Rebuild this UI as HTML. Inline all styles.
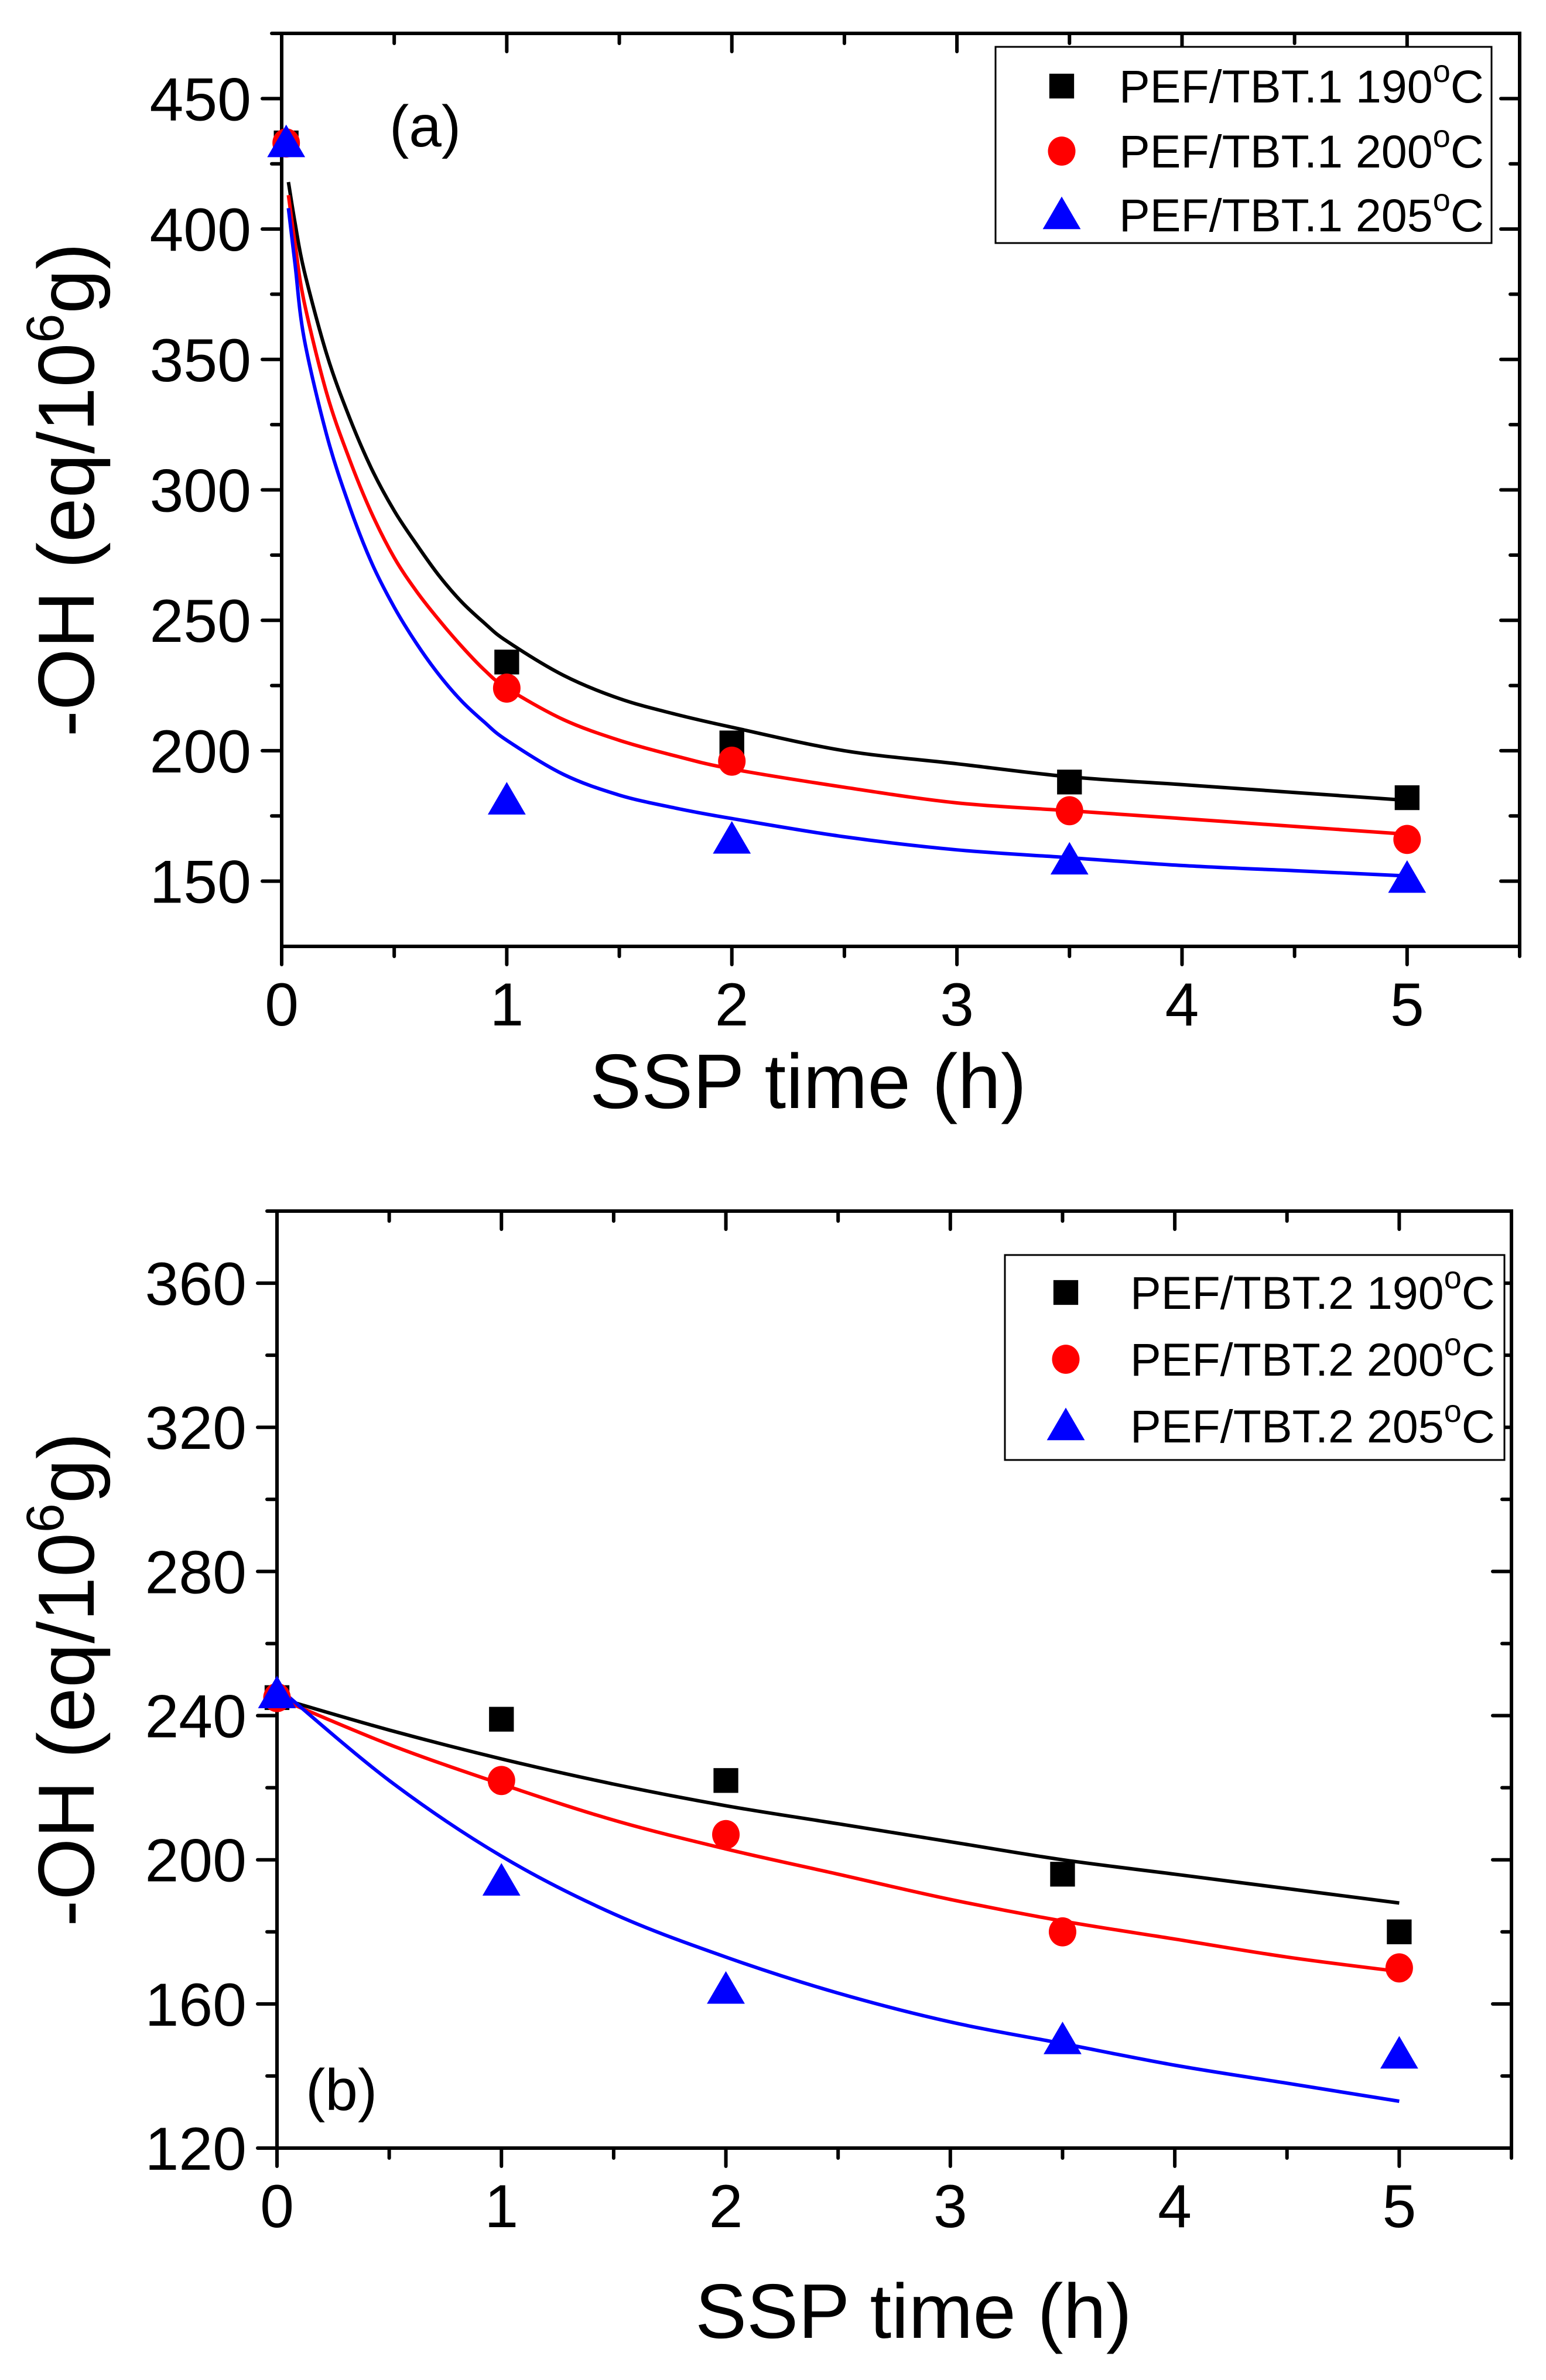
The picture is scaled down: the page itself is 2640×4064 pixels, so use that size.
<!DOCTYPE html>
<html><head><meta charset="utf-8"><style>
html,body{margin:0;padding:0;background:#fff}
svg{display:block}
text{font-family:"Liberation Sans",Arial,sans-serif;fill:#000}
</style></head><body>
<svg id="fig" width="2640" height="4064" viewBox="0 0 2640 4064" xmlns="http://www.w3.org/2000/svg"></svg>
<script>
// Panel (a) data
const xPtsA = [0.02, 1, 2, 3.5, 5];
const a190 = [433, 234, 203, 188, 182];
const a200 = [433, 224, 196, 177, 166];
const a205 = [433, 181, 166, 158, 151];
const fitTA = [0.03, 0.06, 0.1, 0.2, 0.3, 0.4, 0.5, 0.6, 0.7, 0.8, 0.9, 1, 1.25, 1.5, 1.75, 2, 2.5, 3, 3.5, 4, 4.5, 5];
const fitA190 = [418, 402, 384, 352, 328, 308, 292, 279, 267, 257, 249, 242, 229, 220, 214, 209, 200, 195, 190, 187, 184, 181];
const fitA200 = [413, 394, 372, 337, 312, 291, 274, 261, 250, 240, 231, 224, 212, 204, 198, 193, 186, 180, 177, 174, 171, 168];
const fitA205 = [408, 386, 358, 321, 294, 272, 255, 241, 229, 219, 211, 204, 191, 183, 178, 174, 167, 162, 159, 156, 154, 152];
const yTicksA = [150, 200, 250, 300, 350, 400, 450];
const labelsA = ["PEF/TBT.1 190", "PEF/TBT.1 200", "PEF/TBT.1 205"];
// Panel (b) data
const xPtsB = [0, 1, 2, 3.5, 5];
const b190 = [245, 239, 222, 196, 180];
const b200 = [245, 222, 207, 180, 170];
const b205 = [246, 194, 164, 150, 146];
const fitTB = [0, 0.5, 1, 1.5, 2, 2.5, 3, 3.5, 4, 4.5, 5];
const fitB190 = [245, 236, 228, 221, 215, 210, 205, 200, 196, 192, 188];
const fitB200 = [245, 232, 221, 211, 203, 196, 189, 183, 178, 173, 169];
const fitB205 = [248, 222, 201, 185, 173, 163, 155, 149, 143, 138, 133];
const yTicksB = [120, 160, 200, 240, 280, 320, 360];
const labelsB = ["PEF/TBT.2 190", "PEF/TBT.2 200", "PEF/TBT.2 205"];
const xTicks = [0, 1, 2, 3, 4, 5];

const NS = "http://www.w3.org/2000/svg";
const svg = document.getElementById("fig");
function mk(tag, attrs, parent) {
  const e = document.createElementNS(NS, tag);
  for (const k in attrs) e.setAttribute(k, attrs[k]);
  (parent || svg).appendChild(e);
  return e;
}
const colors = ["#000000", "#ff0000", "#0000ff"];

function marker(g, kind, cx, cy, col, s) {
  let m;
  if (kind === 0) m = mk("rect", {x: cx - s * 0.45, y: cy - s * 0.45, width: s * 0.9, height: s * 0.9, fill: col}, g);
  else if (kind === 1) m = mk("ellipse", {cx: cx, cy: cy, rx: s * 0.5, ry: s * 0.53, fill: col}, g);
  else m = mk("polygon", {points: `${cx},${cy - s * 0.58} ${cx - s * 0.6},${cy + s * 0.45} ${cx + s * 0.6},${cy + s * 0.45}`, fill: col}, g);
  return m;
}
function smoothPath(P) {
  let d = "M" + P[0][0].toFixed(1) + "," + P[0][1].toFixed(1);
  for (let i = 0; i < P.length - 1; i++) {
    const p0 = P[Math.max(0, i - 1)], p1 = P[i], p2 = P[i + 1], p3 = P[Math.min(P.length - 1, i + 2)];
    const c1 = [p1[0] + (p2[0] - p0[0]) / 6, p1[1] + (p2[1] - p0[1]) / 6];
    const c2 = [p2[0] - (p3[0] - p1[0]) / 6, p2[1] - (p3[1] - p1[1]) / 6];
    d += ` C${c1[0].toFixed(1)},${c1[1].toFixed(1)} ${c2[0].toFixed(1)},${c2[1].toFixed(1)} ${p2[0].toFixed(1)},${p2[1].toFixed(1)}`;
  }
  return d;
}

function panel(cfg) {
  const {L, R, T, B, xmax, ymin, ymax, yTicks, yMinor, pts, fits, fitT, xPts, labels, leg, tag, tagPos, xTitleX, xTitleY, yTitleX, name} = cfg;
  const g = mk("g", {});
  
  
  const sx = v => L + (v / xmax) * (R - L);
  const sy = v => B - (v - ymin) / (ymax - ymin) * (B - T);
  const tk = mk("g", {stroke: "#000", "stroke-width": 6, "stroke-linecap": "round"}, g);
  
  
  for (let v = 0; v <= 5.5 + 1e-9; v += 0.5) {
    const X = sx(v), major = Math.abs(v - Math.round(v)) < 1e-6;
    mk("line", {x1: X, y1: B, x2: X, y2: B + (major ? 31 : 17)}, tk);
    mk("line", {x1: X, y1: T, x2: X, y2: T + (major ? 31 : 17)}, tk);
  }
  for (let v = yTicks[0]; v <= ymax; v += yMinor) {
    const Y = sy(v), major = yTicks.includes(v);
    mk("line", {x1: L, y1: Y, x2: L - (major ? 33 : 17), y2: Y}, tk);
    mk("line", {x1: R, y1: Y, x2: R - (major ? 32 : 16), y2: Y}, tk);
  }
  const frame = mk("rect", {x: L, y: T, width: R - L, height: B - T, fill: "none", stroke: "#000", "stroke-width": 6}, g);
  
  
  xTicks.forEach(v => {
    const t = mk("text", {x: sx(v), y: B + 135, "font-size": 104, "text-anchor": "middle"}, g);
    
    
    t.textContent = v;
  });
  yTicks.forEach(v => {
    const t = mk("text", {x: L - 52, y: sy(v) + 37, "font-size": 104, "text-anchor": "end"}, g);
    
    
    t.textContent = v;
  });
  const xt = mk("text", {x: xTitleX, y: xTitleY, "font-size": 132, "text-anchor": "middle"}, g);
  
  
  xt.textContent = "SSP time (h)";
  const yt = mk("text", {x: 0, y: 0, "font-size": 136, "text-anchor": "middle", transform: `translate(${yTitleX},${(T + B) / 2}) rotate(-90)`}, g);
  
  
  const s1 = mk("tspan", {}, yt); s1.textContent = "-OH (eq/10";
  const s2 = mk("tspan", {dy: -52, "font-size": 90}, yt); s2.textContent = "6";
  const s3 = mk("tspan", {dy: 52}, yt); s3.textContent = "g)";
  const pt = mk("text", {x: tagPos[0], y: tagPos[1], "font-size": 100}, g);
  
  
  pt.textContent = tag;
  fits.forEach((arr, i) => {
    const P = arr.map((v, j) => [sx(fitT[j]), sy(v)]);
    const p = mk("path", {d: smoothPath(P), fill: "none", stroke: colors[i], "stroke-width": 6, "stroke-linejoin": "round"}, g);
    
    
  });
  pts.forEach((arr, i) => {
    arr.forEach((v, j) => {
      const m = marker(g, i, sx(xPts[j]), sy(v), colors[i], i === 2 ? 54 : 47);
      
      
    });
  });
  const lg = mk("g", {}, g);
  
  
  mk("rect", {x: leg.x, y: leg.y, width: leg.w, height: leg.h, fill: "#fff", stroke: "#000", "stroke-width": 3}, lg);
  labels.forEach((lab, i) => {
    const ry = leg.rows[i];
    const m = marker(lg, i, leg.mx, ry, colors[i], i === 2 ? 54 : 47);
    
    
    const t = mk("text", {x: leg.tx, y: ry + 28, "font-size": 79}, lg);
    
    
    const a = mk("tspan", {}, t); a.textContent = lab;
    const b = mk("tspan", {dy: -35, "font-size": 54}, t); b.textContent = "o";
    const c = mk("tspan", {dy: 35}, t); c.textContent = "C";
  });
}

panel({name: "panel-a", L: 481, R: 2595, T: 57, B: 1616, xmax: 5.5, ymin: 125, ymax: 475,
  yTicks: yTicksA, yMinor: 25, pts: [a190, a200, a205], fits: [fitA190, fitA200, fitA205], fitT: fitTA, xPts: xPtsA,
  labels: labelsA, leg: {x: 1700, y: 80, w: 847, h: 335, mx: 1813, tx: 1911, rows: [147, 258, 367]},
  tag: "(a)", tagPos: [665, 250], xTitleX: 1380, xTitleY: 1892, yTitleX: 160});

panel({name: "panel-b", L: 473, R: 2581, T: 2068, B: 3668, xmax: 5.5, ymin: 120, ymax: 380,
  yTicks: yTicksB, yMinor: 20, pts: [b190, b200, b205], fits: [fitB190, fitB200, fitB205], fitT: fitTB, xPts: xPtsB,
  labels: labelsB, leg: {x: 1716, y: 2143, w: 853, h: 350, mx: 1820, tx: 1930, rows: [2207, 2321, 2435]},
  tag: "(b)", tagPos: [522, 3603], xTitleX: 1560, xTitleY: 3992, yTitleX: 160});
</script>
</body></html>
